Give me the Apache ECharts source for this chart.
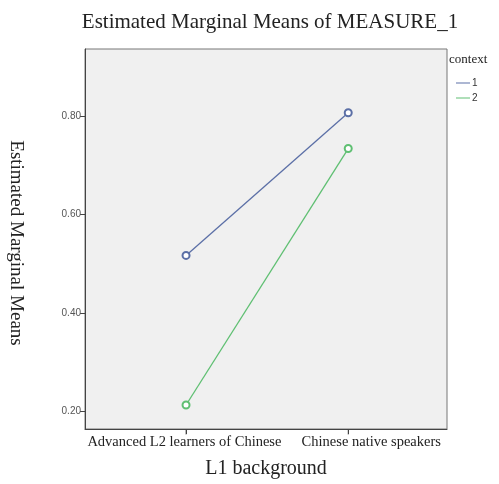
<!DOCTYPE html>
<html><head><meta charset="utf-8">
<script src="https://cdn.jsdelivr.net/npm/echarts@6/dist/echarts.min.js"></script>
<style>html,body{margin:0;padding:0;background:#fff}#c{width:499px;height:484px}</style>
</head><body><div id="c"></div>
<script>
var categories = ['Advanced L2 learners of Chinese', 'Chinese native speakers'];
var context1 = [0.517, 0.808];
var context2 = [0.212, 0.735];
var yTicks = [0.20, 0.40, 0.60, 0.80];
var xTicks = [0, 1];
var seriesNames = ['1', '2'];
var yMin = 0.163, yMax = 0.938;

var chart = echarts.init(document.getElementById('c'));
var serif = '"Liberation Serif","DejaVu Serif",serif';
function pts(arr){ return arr.map(function(v,i){ return [i, v]; }); }
chart.setOption({
  backgroundColor: '#fff',
  animation: false,
  title: {
    text: 'Estimated Marginal Means of MEASURE_1',
    left: 265, top: 7, textAlign: 'center',
    textStyle: {fontFamily: serif, fontWeight: 'normal', fontSize: 21, color: '#222'}
  },
  legend: {
    show: true,
    orient: 'vertical', left: 451, top: 73, itemGap: 5,
    itemWidth: 14, itemHeight: 8,
    data: [{name: '1', icon: 'path://M0,4L14,4L14,5L0,5Z'}, {name: '2', icon: 'path://M0,4L14,4L14,5L0,5Z'}],
    textStyle: {fontSize: 10, color: '#333', fontFamily: 'Arial, "Liberation Sans", sans-serif', padding: [0,0,0,-3]}
  },
  graphic: [
    {type: 'text', left: 449, top: 53, style: {text: 'context', font: '13px ' + serif, fill: '#222'}},
    {type: 'text', x: 16, y: 243, rotation: -Math.PI/2,
     style: {text: 'Estimated Marginal Means', font: '19px ' + serif, fill: '#222', align: 'center', verticalAlign: 'middle'}, z: 10}
  ],
  grid: {left: 85, top: 49, width: 362, height: 381, show: true, backgroundColor: '#f0f0f0', borderColor: '#777', borderWidth: 1},
  xAxis: {
    type: 'value', min: -0.623, max: 1.609,
    name: 'L1 background', nameLocation: 'middle', nameGap: 30,
    nameTextStyle: {fontFamily: serif, fontSize: 20, color: '#222'},
    axisLine: {show: true, onZero: false, lineStyle: {color: '#444'}},
    splitLine: {show: false},
    axisTick: {show: true, length: 5, customValues: xTicks, lineStyle: {color: '#444', width: 1}},
    axisLabel: {customValues: [-0.01, 1.142], hideOverlap: false, fontFamily: serif, fontSize: 14.5, color: '#222', margin: 6,
      formatter: function(v){ return categories[Math.round(v)] || ''; }}
  },
  yAxis: {
    type: 'value', min: yMin, max: yMax,
    axisLine: {show: true, onZero: false, lineStyle: {color: '#444'}},
    splitLine: {show: false},
    axisTick: {show: true, length: 5, customValues: yTicks, lineStyle: {color: '#444'}},
    axisLabel: {customValues: yTicks, fontSize: 10, color: '#555', margin: 4,
      fontFamily: 'Arial, "Liberation Sans", sans-serif',
      formatter: function(v){ return v.toFixed(2); }}
  },
  series: [
    {name: seriesNames[0], type: 'line', data: pts(context1), symbol: 'emptyCircle', symbolSize: 7,
     itemStyle: {color: '#5b6fa6', borderWidth: 1}, lineStyle: {color: '#5b6fa6', width: 1.3}},
    {name: seriesNames[1], type: 'line', data: pts(context2), symbol: 'emptyCircle', symbolSize: 7,
     itemStyle: {color: '#5fbf72', borderWidth: 1}, lineStyle: {color: '#5fbf72', width: 1.3}},
    {name: 'xticks', type: 'scatter', data: xTicks.map(function(t){ return [t, yMin]; }),
     symbol: 'rect', symbolSize: [1, 5], symbolOffset: [0, 3], clip: false, silent: true, z: 10,
     itemStyle: {color: '#444'}, tooltip: {show: false}}
  ]
});
</script></body></html>
